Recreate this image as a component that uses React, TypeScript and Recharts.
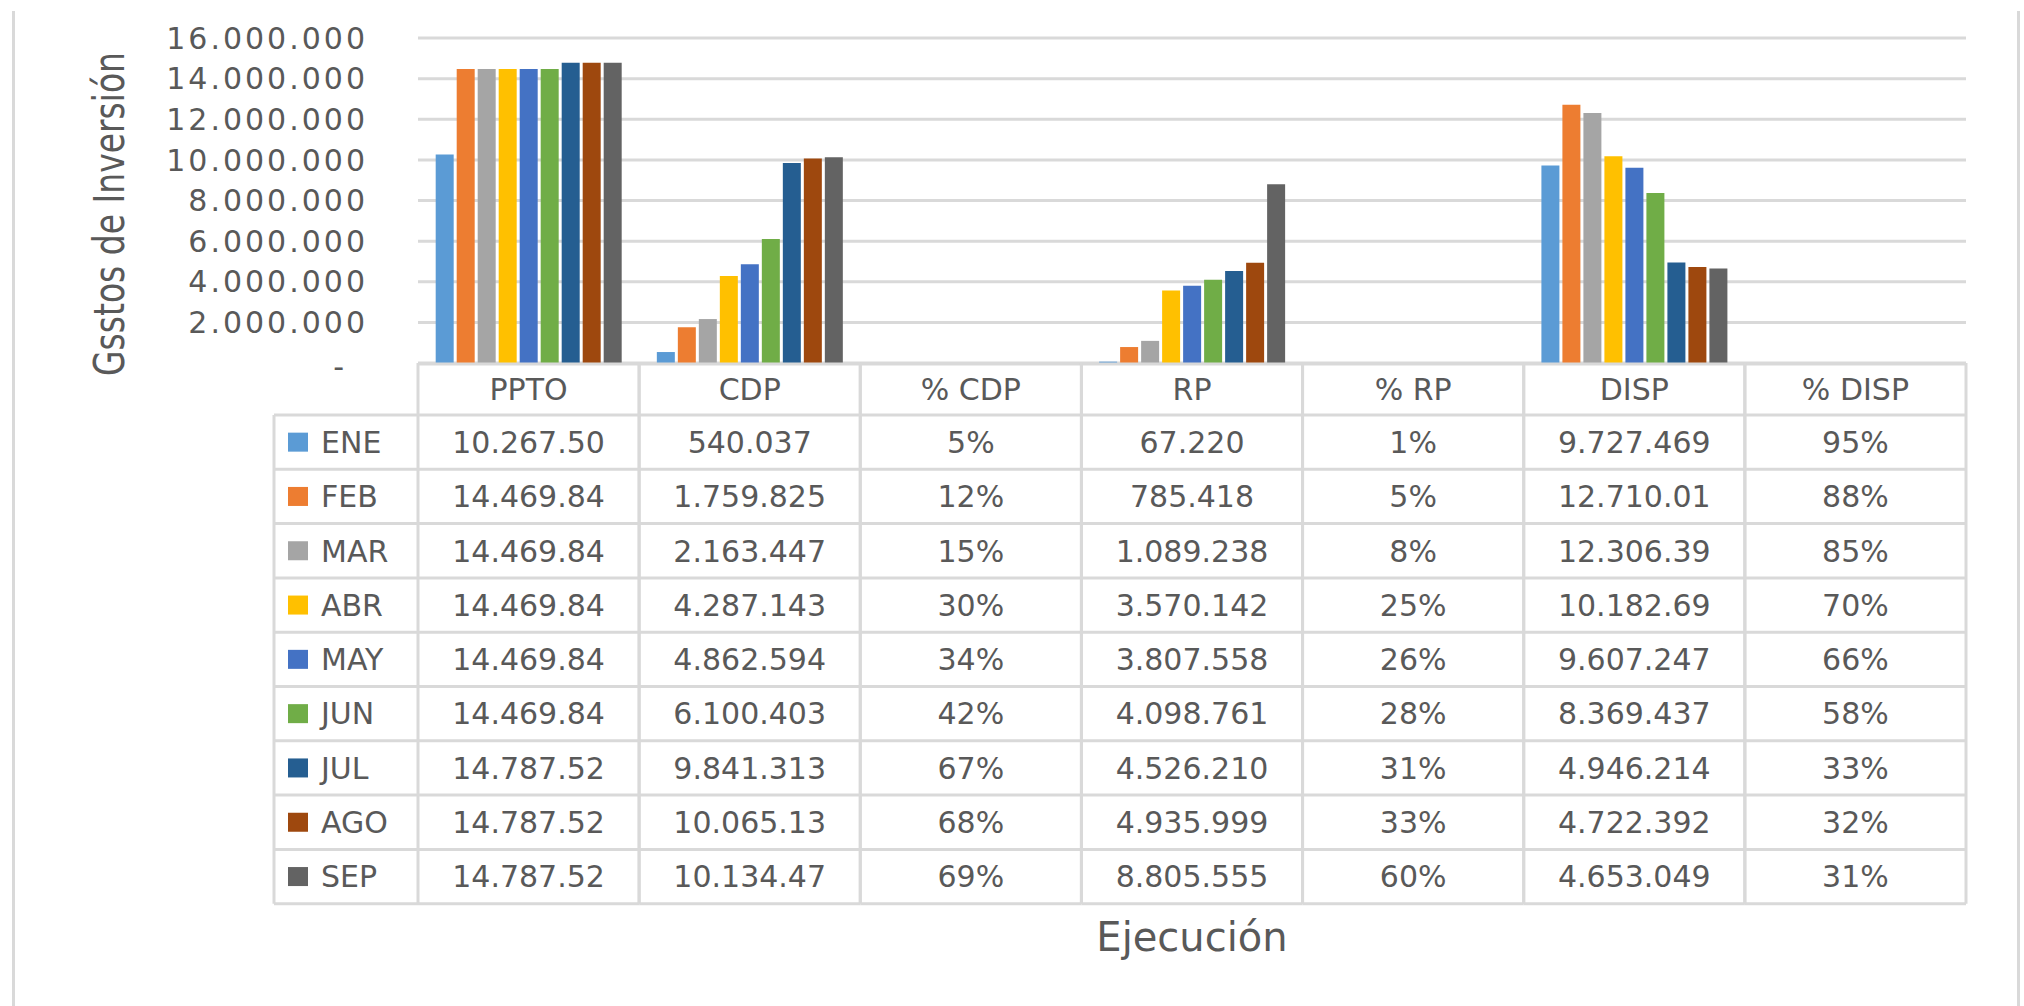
import { BarChart, Bar, XAxis, YAxis, CartesianGrid } from "recharts";

const CATEGORIES = ["PPTO", "CDP", "% CDP", "RP", "% RP", "DISP", "% DISP"];
const MONTHS = ["ENE", "FEB", "MAR", "ABR", "MAY", "JUN", "JUL", "AGO", "SEP"];
const MONTH_COLORS = [
  "#5B9BD5", "#ED7D31", "#A5A5A5", "#FFC000", "#4472C4",
  "#70AD47", "#255E91", "#9E480E", "#636363",
];

// one value per month, in the order of MONTHS
const PPTO = [10267500, 14469840, 14469840, 14469840, 14469840, 14469840, 14787520, 14787520, 14787520];
const CDP = [540037, 1759825, 2163447, 4287143, 4862594, 6100403, 9841313, 10065130, 10134470];
const PCT_CDP = [5, 12, 15, 30, 34, 42, 67, 68, 69];
const RP = [67220, 785418, 1089238, 3570142, 3807558, 4098761, 4526210, 4935999, 8805555];
const PCT_RP = [1, 5, 8, 25, 26, 28, 31, 33, 60];
const DISP = [9727469, 12710010, 12306390, 10182690, 9607247, 8369437, 4946214, 4722392, 4653049];
const PCT_DISP = [95, 88, 85, 70, 66, 58, 33, 32, 31];

const Y_TICKS = [0, 2000000, 4000000, 6000000, 8000000, 10000000, 12000000, 14000000, 16000000];

const COLUMNS = [PPTO, CDP, PCT_CDP, RP, PCT_RP, DISP, PCT_DISP];
const IS_PCT = CATEGORIES.map((c) => c.startsWith("%"));

const data = CATEGORIES.map((cat, ci) => {
  const row: Record<string, string | number> = { cat };
  MONTHS.forEach((m, mi) => {
    row[m] = IS_PCT[ci] ? COLUMNS[ci][mi] / 100 : COLUMNS[ci][mi];
  });
  return row;
});

const FONT = "'DejaVu Sans', sans-serif";
const TEXT = "#595959";
const RULE = "#d9d9d9";

const CHART_W = 2024;
const CHART_H = 1006;
const PLOT_LEFT = 418;
const PLOT_RIGHT = 1966;
const COL_W = (PLOT_RIGHT - PLOT_LEFT) / CATEGORIES.length;
const HEADER_H = 52;
const ROW_H = 54.3;
const LEGEND_LEFT = 274;

const dots = (n: number) => String(n).replace(/\B(?=(\d{3})+(?!\d))/g, ".");

// excel cuts the long numbers in the data table to 9 characters
const cellText = (ci: number, mi: number) =>
  IS_PCT[ci] ? `${COLUMNS[ci][mi]}%` : dots(COLUMNS[ci][mi]).slice(0, 9);

function YTick({ x, y, payload }: any) {
  const v = payload.value;
  if (v === 0) {
    return (
      <text x={x - 24} y={y + 3} dy="0.355em" textAnchor="end" fill={TEXT} fontSize={30} fontFamily={FONT}>
        -
      </text>
    );
  }
  return (
    <text x={x} y={y} dy="0.355em" textAnchor="end" fill={TEXT} fontSize={30} fontFamily={FONT} letterSpacing={3}>
      {dots(v)}
    </text>
  );
}

function TableTick({ x, y, payload }: any) {
  const ci = CATEGORIES.indexOf(payload.value);
  const left = x - COL_W / 2;
  const right = x + COL_W / 2;
  const top = y;
  const bodyTop = top + HEADER_H;
  const bottom = bodyTop + MONTHS.length * ROW_H;
  const textProps = { fill: TEXT, fontSize: 30, fontFamily: FONT, textAnchor: "middle" as const };

  return (
    <g>
      <line x1={left} y1={top + 1} x2={right} y2={top + 1} stroke={RULE} strokeWidth={3} />
      <line x1={left} y1={top} x2={left} y2={bottom} stroke={RULE} strokeWidth={3} />
      <line x1={right} y1={top} x2={right} y2={bottom} stroke={RULE} strokeWidth={3} />
      {MONTHS.map((_, r) => (
        <line key={`h${r}`} x1={left} y1={bodyTop + r * ROW_H} x2={right} y2={bodyTop + r * ROW_H} stroke={RULE} strokeWidth={3} />
      ))}
      <line x1={left} y1={bottom} x2={right} y2={bottom} stroke={RULE} strokeWidth={3} />
      <text x={x} y={top + HEADER_H / 2} dy="0.36em" {...textProps}>
        {payload.value}
      </text>
      {MONTHS.map((_, r) => (
        <text key={`t${r}`} x={x} y={bodyTop + r * ROW_H + ROW_H / 2} dy="0.36em" {...textProps}>
          {cellText(ci, r)}
        </text>
      ))}
      {ci === 0 && (
        <g>
          <line x1={LEGEND_LEFT} y1={bodyTop} x2={LEGEND_LEFT} y2={bottom} stroke={RULE} strokeWidth={3} />
          {MONTHS.map((m, r) => (
            <g key={m}>
              <line x1={LEGEND_LEFT} y1={bodyTop + r * ROW_H} x2={left} y2={bodyTop + r * ROW_H} stroke={RULE} strokeWidth={3} />
              <rect x={LEGEND_LEFT + 14} y={bodyTop + r * ROW_H + ROW_H / 2 - 9.5} width={20} height={19} fill={MONTH_COLORS[r]} />
              <text x={LEGEND_LEFT + 47} y={bodyTop + r * ROW_H + ROW_H / 2} dy="0.36em" fill={TEXT} fontSize={30} fontFamily={FONT}>
                {m}
              </text>
            </g>
          ))}
          <line x1={LEGEND_LEFT} y1={bottom} x2={left} y2={bottom} stroke={RULE} strokeWidth={3} />
        </g>
      )}
    </g>
  );
}

function YTitle() {
  return (
    <text
      transform="translate(124,214) rotate(-90) scale(1,1.3)"
      textAnchor="middle"
      fill={TEXT}
      fontSize={33}
      fontFamily={FONT}
    >
      Gsstos de Inversión
    </text>
  );
}

export default function App() {
  return (
    <div style={{ position: "absolute", left: 0, top: 0, width: CHART_W, height: CHART_H, background: "#fff" }}>
      <div style={{ position: "absolute", left: 12, top: 11, width: 3, height: CHART_H - 11, background: RULE }} />
      <div style={{ position: "absolute", left: 2017, top: 11, width: 3, height: CHART_H - 11, background: RULE }} />
      <BarChart
        width={CHART_W}
        height={CHART_H}
        data={data}
        margin={{ top: 38, right: CHART_W - PLOT_RIGHT, bottom: 43, left: 0 }}
        barCategoryGap="8%"
        barGap={3}
        style={{ fontFamily: FONT }}
      >
        <CartesianGrid vertical={false} stroke={RULE} strokeWidth={3} />
        <XAxis
          dataKey="cat"
          height={600}
          interval={0}
          tickLine={false}
          axisLine={false}
          tickSize={0}
          tickMargin={0}
          tick={<TableTick />}
          label={{ value: "Ejecución", position: "insideBottom", offset: 12, fill: TEXT, fontSize: 40, fontFamily: FONT }}
        />
        <YAxis
          width={PLOT_LEFT}
          domain={[0, 16000000]}
          ticks={Y_TICKS}
          interval={0}
          tickLine={false}
          axisLine={false}
          tickSize={6}
          tickMargin={44}
          tick={<YTick />}
          label={{ content: () => <YTitle /> }}
        />
        {MONTHS.map((m, i) => (
          <Bar key={m} dataKey={m} fill={MONTH_COLORS[i]} isAnimationActive={false} />
        ))}
      </BarChart>
    </div>
  );
}
